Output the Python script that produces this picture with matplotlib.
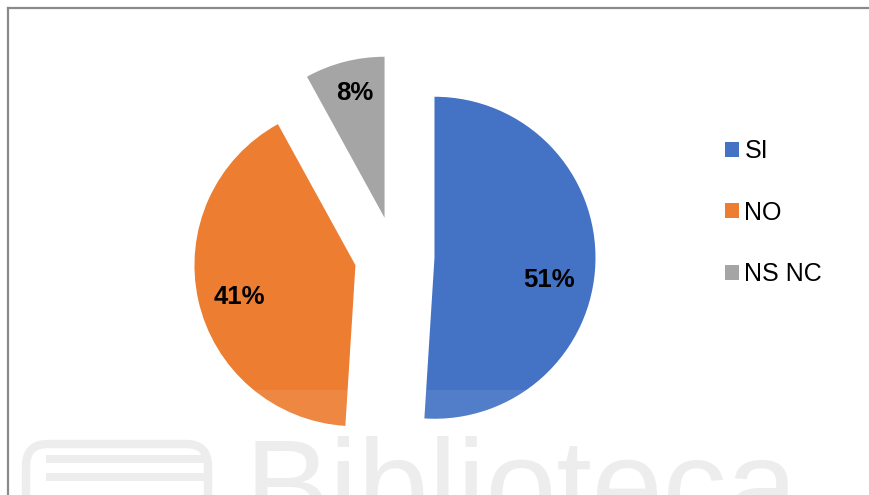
import matplotlib
matplotlib.use("Agg")
import matplotlib.pyplot as plt
from matplotlib.patches import Rectangle, FancyBboxPatch, Patch
from matplotlib.lines import Line2D

# Survey answers
categories = ["SI", "NO", "NS NC"]
values = [51, 41, 8]
colors = ["#4472C4", "#ED7D31", "#A5A5A5"]

W, H = 870, 495
fig = plt.figure(figsize=(W / 100, H / 100), dpi=100)
fig.patch.set_facecolor("white")
ax = fig.add_axes([0, 0, 1, 1])
ax.set_xlim(0, W)
ax.set_ylim(0, H)
ax.set_aspect("equal")
ax.axis("off")

# pixel-style helper: y measured from the top edge
def py(y):
    return H - y

center = (394.5, py(256.5))
radius = 161
wedges, _ = ax.pie(values, colors=colors, startangle=90, counterclock=False,
                   explode=[40] * len(values), center=center, radius=radius,
                   wedgeprops=dict(linewidth=0), frame=True)
ax.set_xlim(0, W)
ax.set_ylim(0, H)
ax.axis("off")

# percentage labels
label_xy = [(549, py(280)), (239, py(297)), (355, py(93))]
total = sum(values)
for v, (lx, ly) in zip(values, label_xy):
    ax.text(lx, ly, f"{round(100 * v / total)}%", ha="center", va="center",
            fontsize=18.5, fontweight="bold", family="Liberation Sans",
            color="black", zorder=5)

# legend
handles = [Patch(facecolor=c, edgecolor="none") for c in colors]
leg = fig.legend(handles, categories, loc="upper left",
                 bbox_to_anchor=(725 / W, 1 - 139 / H), frameon=False,
                 prop=dict(family="Liberation Sans", size=18),
                 handlelength=0.56, handleheight=0.56, handletextpad=0.22,
                 labelspacing=1.5, borderpad=0, borderaxespad=0)

# faint library watermark along the bottom
wm = "#ececec"
ax.add_patch(Rectangle((0, 0), W, py(390), facecolor="white", alpha=0.08,
                       edgecolor="none", zorder=3))
ax.text(245, py(436), "Biblioteca", ha="left", va="top", fontsize=92,
        family="Liberation Sans", color=wm, zorder=1)
ax.add_patch(FancyBboxPatch((26, py(520)), 182, 76,
                            boxstyle="round,pad=0,rounding_size=22",
                            facecolor="none", edgecolor=wm, linewidth=6, zorder=1))
for yb in (458, 476):
    ax.add_patch(Rectangle((46, py(yb + 5)), 158, 8, facecolor=wm,
                           edgecolor="none", zorder=1))

# chart border (top and left)
bc = "#8a8a8a"
fig.add_artist(Line2D([8.5 / W, 1], [1 - 7.5 / H, 1 - 7.5 / H],
                      transform=fig.transFigure, color=bc, linewidth=1.6))
fig.add_artist(Line2D([8.5 / W, 8.5 / W], [1 - 7.5 / H, 0],
                      transform=fig.transFigure, color=bc, linewidth=1.6))

fig.savefig("out.png", dpi=100, facecolor="white")
